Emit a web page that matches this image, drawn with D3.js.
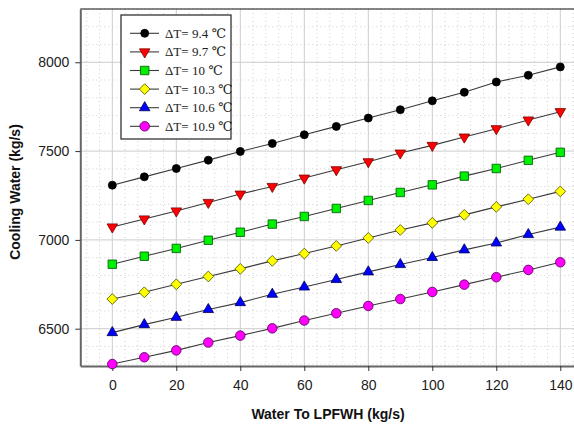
<!DOCTYPE html>
<html>
<head>
<meta charset="utf-8">
<script src="https://cdn.jsdelivr.net/npm/d3@7"></script>
<style>
  body { margin: 0; background: #fff; }
</style>
</head>
<body>
<div id="chart"></div>
<script>
// data
var waterLPFWH = [0, 10, 20, 30, 40, 50, 60, 70, 80, 90, 100, 110, 120, 130, 140];
var dT94  = [7308, 7355, 7402, 7449, 7498, 7543, 7592, 7639, 7686, 7733, 7783, 7831, 7889, 7927, 7974];
var dT97  = [7073, 7118, 7163, 7211, 7258, 7301, 7348, 7395, 7440, 7489, 7532, 7579, 7626, 7675, 7722];
var dT100 = [6863, 6908, 6952, 6998, 7043, 7089, 7132, 7177, 7222, 7267, 7310, 7359, 7402, 7448, 7493];
var dT103 = [6667, 6705, 6750, 6794, 6837, 6882, 6923, 6966, 7011, 7056, 7096, 7141, 7186, 7229, 7273];
var dT106 = [6478, 6523, 6564, 6608, 6647, 6694, 6735, 6777, 6820, 6861, 6901, 6944, 6983, 7030, 7072];
var dT109 = [6301, 6339, 6378, 6422, 6461, 6502, 6546, 6587, 6628, 6667, 6707, 6748, 6790, 6831, 6874];
var seriesNames = ["\u0394T= 9.4 \u2103", "\u0394T= 9.7 \u2103", "\u0394T= 10 \u2103",
                   "\u0394T= 10.3 \u2103", "\u0394T= 10.6 \u2103", "\u0394T= 10.9 \u2103"];
var xTicks = [0, 20, 40, 60, 80, 100, 120, 140];
var yTicks = [6500, 7000, 7500, 8000];

var series = [
    {name: seriesNames[0], values: dT94,  fill: "#000000", stroke: "#000000", symbol: d3.symbolCircle, size: 50, rot: 0},
    {name: seriesNames[1], values: dT97,  fill: "#ff0000", stroke: "#7a0000", symbol: d3.symbolTriangle, size: 48, rot: 180},
    {name: seriesNames[2], values: dT100, fill: "#00ee00", stroke: "#005500", symbol: d3.symbolSquare, size: 72, rot: 0},
    {name: seriesNames[3], values: dT103, fill: "#ffff00", stroke: "#555500", symbol: d3.symbolSquare, size: 58, rot: 45},
    {name: seriesNames[4], values: dT106, fill: "#0000ff", stroke: "#000055", symbol: d3.symbolTriangle, size: 48, rot: 0},
    {name: seriesNames[5], values: dT109, fill: "#ff00ff", stroke: "#550055", symbol: d3.symbolCircle, size: 72, rot: 0}
];

var W = 574, H = 428;
var plotL = 80.3, plotR = 592.3, plotT = 9, plotB = 366;

var svg = d3.select("#chart").append("svg")
    .attr("width", W)
    .attr("height", H)
    .style("font-family", "Arial, 'Liberation Sans', sans-serif");

svg.append("rect").attr("width", W).attr("height", H).attr("fill", "#fff");

var x = d3.scaleLinear().domain([-10, 150]).range([plotL, plotR]);
var y = d3.scaleLinear().domain([6290, 8300]).range([plotB, plotT]);

// minor grid (dotted)
var grid = svg.append("g");
grid.selectAll(".minx")
    .data(d3.range(-8, 150, 4).filter(function(d) { return d % 20 !== 0; }))
    .join("line")
    .attr("x1", function(d) { return x(d); })
    .attr("x2", function(d) { return x(d); })
    .attr("y1", plotT).attr("y2", plotB)
    .attr("stroke", "#cfcfcf")
    .attr("stroke-dasharray", "1,3");
grid.selectAll(".miny")
    .data(d3.range(6300, 8301, 100).filter(function(d) { return d % 500 !== 0; }))
    .join("line")
    .attr("y1", function(d) { return y(d); })
    .attr("y2", function(d) { return y(d); })
    .attr("x1", plotL).attr("x2", W)
    .attr("stroke", "#cfcfcf")
    .attr("stroke-dasharray", "1,3");

// major grid
grid.selectAll(".majx")
    .data(xTicks)
    .join("line")
    .attr("x1", function(d) { return x(d); })
    .attr("x2", function(d) { return x(d); })
    .attr("y1", plotT).attr("y2", plotB)
    .attr("stroke", "#cccccc");
grid.selectAll(".majy")
    .data(yTicks)
    .join("line")
    .attr("y1", function(d) { return y(d); })
    .attr("y2", function(d) { return y(d); })
    .attr("x1", plotL).attr("x2", W)
    .attr("stroke", "#cccccc");

// frame top
svg.append("line")
    .attr("x1", plotL).attr("x2", W).attr("y1", plotT).attr("y2", plotT)
    .attr("stroke", "#111").attr("stroke-width", 1.2);

// axes
var xAxis = svg.append("g")
    .attr("transform", "translate(0," + plotB + ")")
    .call(d3.axisBottom(x).tickValues(xTicks).tickSize(5).tickSizeOuter(0).tickPadding(9));
var yAxis = svg.append("g")
    .attr("transform", "translate(" + plotL + ",0)")
    .call(d3.axisLeft(y).tickValues(yTicks).tickSize(5).tickSizeOuter(0).tickPadding(6).tickFormat(d3.format("d")));
[xAxis, yAxis].forEach(function(a) {
    a.select(".domain").attr("stroke", "#666").attr("stroke-width", 2);
    a.selectAll(".tick line").attr("stroke", "#333");
    a.selectAll("text").attr("fill", "#222").style("font-size", "14px")
        .style("font-family", "Arial, 'Liberation Sans', sans-serif");
});

// axis titles
svg.append("text")
    .attr("x", 328)
    .attr("y", 419)
    .attr("text-anchor", "middle")
    .style("font-size", "14px")
    .style("font-weight", "bold")
    .attr("fill", "#111")
    .text("Water To LPFWH (kg/s)");
svg.append("text")
    .attr("transform", "translate(20,192) rotate(-90)")
    .attr("text-anchor", "middle")
    .style("font-size", "14px")
    .style("font-weight", "bold")
    .attr("fill", "#111")
    .text("Cooling Water (kg/s)");

// lines + markers
var line = d3.line()
    .x(function(d, i) { return x(waterLPFWH[i]); })
    .y(function(d) { return y(d); });

var plot = svg.append("g");
plot.selectAll(".lines")
    .data(series)
    .join("path")
    .attr("fill", "none")
    .attr("stroke", "#3a3a3a")
    .attr("stroke-width", 1.1)
    .attr("d", function(d) { return line(d.values); });

function markerPath(s) {
    return d3.symbol().type(s.symbol).size(s.size)();
}

series.forEach(function(s) {
    plot.selectAll(null)
        .data(s.values)
        .join("path")
        .attr("d", markerPath(s))
        .attr("transform", function(d, i) {
            return "translate(" + x(waterLPFWH[i]) + "," + y(d) + ") rotate(" + s.rot + ")";
        })
        .attr("fill", s.fill)
        .attr("stroke", s.stroke)
        .attr("stroke-width", 0.8);
});

// legend
var lg = svg.append("g");
lg.append("rect")
    .attr("x", 121).attr("y", 15)
    .attr("width", 110).attr("height", 124)
    .attr("fill", "#fff")
    .attr("stroke", "#222")
    .attr("stroke-width", 1.2);
var rows = lg.selectAll(".row")
    .data(series)
    .join("g")
    .attr("transform", function(d, i) { return "translate(0," + (33.3 + i * 18.6) + ")"; });
rows.append("line")
    .attr("x1", 130).attr("x2", 159)
    .attr("stroke", "#3a3a3a").attr("stroke-width", 1.1);
rows.append("path")
    .attr("d", function(d) { return markerPath(d); })
    .attr("transform", function(d) { return "translate(144.7,0) rotate(" + d.rot + ")"; })
    .attr("fill", function(d) { return d.fill; })
    .attr("stroke", function(d) { return d.stroke; })
    .attr("stroke-width", 0.8);
rows.append("text")
    .attr("x", 165)
    .attr("y", 4.5)
    .style("font-family", "'Liberation Serif', 'DejaVu Serif', serif")
    .style("font-size", "13px")
    .attr("fill", "#222")
    .text(function(d) { return d.name; });
</script>
</body>
</html>
